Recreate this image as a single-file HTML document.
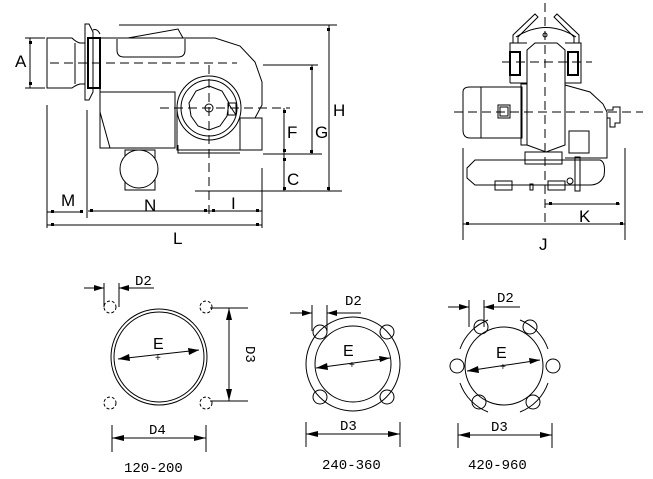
<!DOCTYPE html>
<html><head><meta charset="utf-8"><style>
html,body{margin:0;padding:0;background:#fff;}
svg{display:block;font-family:"Liberation Sans",sans-serif;}
</style></head><body>
<svg width="653" height="479" viewBox="0 0 653 479" xmlns="http://www.w3.org/2000/svg">
<g fill="none" stroke="#000" stroke-width="1">
<path d="M47,38 H72 Q76,42 80,43 H85 V84 H80 Q76,85 72,88 H47 Z"/>
<line x1="75" y1="43" x2="75" y2="84"/>
<path d="M85,24 H89 L93,32 V92 L89,100 H85 Z"/>
<path d="M88,38 H100 V88 H88 Z" stroke-width="2"/>
<path d="M93,30 Q97,28 100,34"/>
<path d="M100,38 H215 L240,46 L255,62 L262,82 V105 L255,118"/>
<path d="M117,39 V50 Q117,57 124,57 H178 Q185,57 185,50 V39"/>
<path d="M128,38 L178,29 L183,38"/>
<path d="M100,88 V112 L110,148 H175"/>
<rect x="100" y="92" width="75" height="56"/>
<circle cx="209" cy="108" r="32"/>
<circle cx="209" cy="108" r="28"/>
<polygon points="209,86 222,91 229,103 227,116 220,126 209,130 198,126 191,116 189,103 196,91"/>
<circle cx="209" cy="108" r="4"/>
<path d="M177,108 V150 H240 V118 H262 V150 H240"/>
<path d="M178,145 V153 H240"/>
<rect x="228" y="103" width="8" height="12"/>
<path d="M228,103 L236,115"/>
<rect x="125" y="150" width="30" height="40"/>
<circle cx="139" cy="169" r="19" fill="#fff"/>
<g stroke-dasharray="9,5">
<line x1="50" y1="63" x2="237" y2="63"/>
<line x1="160" y1="108" x2="290" y2="108"/>
<line x1="209" y1="65" x2="209" y2="215"/>
</g>
<line x1="119" y1="25" x2="337" y2="25"/>
<line x1="195" y1="191" x2="342" y2="191"/>
<line x1="329" y1="25" x2="329" y2="191"/>
<line x1="263" y1="65" x2="318" y2="65"/>
<line x1="263" y1="154" x2="322" y2="154"/>
<line x1="312" y1="65" x2="312" y2="154"/>
<line x1="284" y1="108" x2="284" y2="191"/>
<line x1="25" y1="38" x2="45" y2="38"/>
<line x1="25" y1="88" x2="45" y2="88"/>
<line x1="30" y1="38" x2="30" y2="88"/>
<line x1="47" y1="105" x2="47" y2="228"/>
<line x1="87" y1="110" x2="87" y2="218"/>
<line x1="262" y1="168" x2="262" y2="228"/>
<line x1="47" y1="212" x2="82" y2="212"/>
<line x1="88" y1="211" x2="262" y2="211"/>
<line x1="47" y1="225" x2="262" y2="225"/>
<path d="M527,50 L535,43 H557 L565,50 V145 L546,152 L527,145 Z"/>
<path d="M510,83 V43 H527 M565,43 H581 V83 H565 M510,83 H527"/>
<rect x="510" y="52" width="10" height="23" stroke-width="2"/>
<rect x="568" y="52" width="10" height="23" stroke-width="2"/>
<path d="M516,37 Q546,18 576,37"/>
<path d="M513,43 V35 L535,14 L538,17 L518,37 V43"/>
<path d="M579,43 V35 L557,14 L554,17 L574,37 V43"/>
<circle cx="545" cy="35" r="2"/>
<path d="M463,92 Q463,87 470,87 H481 V138 H470 Q463,138 463,130 Z"/>
<rect x="481" y="87" width="41" height="51"/>
<rect x="521" y="84" width="6" height="61"/>
<rect x="498" y="105" width="12" height="13"/>
<rect x="500" y="107" width="8" height="9"/>
<path d="M565,85 L590,92 L603,104 L607,112 V158 H565"/>
<rect x="569" y="131" width="20" height="22"/>
<path d="M607,110 H613 V107 H620 V123 H615 V127 H610 V118 H607"/>
<rect x="525" y="152" width="37" height="12"/>
<path d="M475,160 H600 Q606,162 604,176 Q600,185 590,185 H475 L467,178 V168 Z"/>
<rect x="495" y="181" width="17" height="9"/>
<rect x="548" y="181" width="17" height="9"/>
<rect x="530" y="184" width="3" height="6"/>
<rect x="575" y="157" width="5" height="34"/>
<circle cx="570" cy="181" r="3"/>
<g stroke-dasharray="9,5">
<line x1="545" y1="3" x2="545" y2="222"/>
<line x1="502" y1="62" x2="592" y2="62"/>
<line x1="454" y1="112" x2="643" y2="112"/>
</g>
<line x1="463" y1="148" x2="463" y2="240"/>
<line x1="625" y1="148" x2="625" y2="240"/>
<line x1="545" y1="204" x2="620" y2="204"/>
<line x1="463" y1="224" x2="625" y2="224"/>
<circle cx="159" cy="357" r="48"/>
<circle cx="159" cy="357" r="45"/>
<g stroke-dasharray="3,2">
<circle cx="110" cy="307" r="6"/><circle cx="206" cy="307" r="6"/>
<circle cx="110" cy="403" r="6"/><circle cx="206" cy="403" r="6"/>
</g>
<line x1="104" y1="283" x2="104" y2="307"/>
<line x1="119" y1="283" x2="119" y2="307"/>
<line x1="84" y1="288" x2="104" y2="288"/>
<line x1="119" y1="288" x2="154" y2="288"/>
<line x1="210" y1="308" x2="248" y2="308"/>
<line x1="210" y1="401" x2="248" y2="401"/>
<line x1="229" y1="308" x2="229" y2="401"/>
<line x1="112" y1="425" x2="112" y2="452"/>
<line x1="206" y1="425" x2="206" y2="452"/>
<line x1="112" y1="438" x2="206" y2="438"/>
<line x1="118" y1="359" x2="199" y2="350"/>
<circle cx="353" cy="364" r="47"/>
<circle cx="353" cy="364" r="38"/>
<circle cx="320" cy="332" r="7"/><circle cx="387" cy="332" r="7"/>
<circle cx="320" cy="397" r="7"/><circle cx="387" cy="397" r="7"/>
<line x1="312" y1="305" x2="312" y2="331"/>
<line x1="327" y1="305" x2="327" y2="331"/>
<line x1="290" y1="313" x2="312" y2="313"/>
<line x1="327" y1="313" x2="361" y2="313"/>
<line x1="306" y1="422" x2="306" y2="447"/>
<line x1="400" y1="422" x2="400" y2="447"/>
<line x1="306" y1="434" x2="400" y2="434"/>
<line x1="316" y1="368" x2="390" y2="358"/>
<circle cx="504" cy="366" r="39"/>
<path d="M460,349 A48,48 0 0 1 488,320 M520,320 A48,48 0 0 1 548,349 M548,383 A48,48 0 0 1 520,412 M488,412 A48,48 0 0 1 460,383"/>
<circle cx="481" cy="327" r="7"/><circle cx="530" cy="327" r="7"/>
<circle cx="457" cy="366" r="7"/><circle cx="553" cy="366" r="7"/>
<circle cx="479" cy="402" r="7"/><circle cx="533" cy="402" r="7"/>
<line x1="469" y1="300" x2="469" y2="327"/>
<line x1="484" y1="300" x2="484" y2="327"/>
<line x1="448" y1="307" x2="469" y2="307"/>
<line x1="484" y1="307" x2="520" y2="307"/>
<line x1="458" y1="423" x2="458" y2="448"/>
<line x1="552" y1="423" x2="552" y2="448"/>
<line x1="458" y1="435" x2="552" y2="435"/>
<line x1="467" y1="371" x2="540" y2="360"/>
</g>
<g fill="#000">
<polygon points="104,288 94,285 94,291"/><polygon points="119,288 129,285 129,291"/>
<polygon points="229,308 226,320 232,320"/><polygon points="229,401 226,389 232,389"/>
<polygon points="112,438 124,435 124,441"/><polygon points="206,438 194,435 194,441"/>
<polygon points="118,359 129,354 130,361"/><polygon points="199,350 188,348 189,355"/>
<polygon points="312,313 302,310 302,316"/><polygon points="327,313 337,310 337,316"/>
<polygon points="306,434 318,431 318,437"/><polygon points="400,434 388,431 388,437"/>
<polygon points="316,368 327,363 328,370"/><polygon points="390,358 379,356 380,362"/>
<polygon points="469,307 459,304 459,310"/><polygon points="484,307 494,304 494,310"/>
<polygon points="458,435 470,432 470,438"/><polygon points="552,435 540,432 540,438"/>
<polygon points="467,371 478,366 479,373"/><polygon points="540,360 529,358 530,364"/>
<rect x="327" y="28" width="3" height="3"/><rect x="327" y="187" width="3" height="3"/>
<rect x="310" y="67" width="3" height="3"/><rect x="310" y="150" width="3" height="3"/>
<rect x="283" y="110" width="3" height="3"/><rect x="283" y="149" width="3" height="3"/>
<rect x="283" y="158" width="3" height="3"/><rect x="283" y="187" width="3" height="3"/>
<rect x="29" y="41" width="3" height="3"/><rect x="29" y="82" width="3" height="3"/>
<rect x="51" y="210" width="3" height="3"/><rect x="80" y="210" width="3" height="3"/>
<rect x="90" y="209" width="3" height="3"/><rect x="204" y="209" width="3" height="3"/>
<rect x="212" y="209" width="3" height="3"/><rect x="256" y="209" width="3" height="3"/>
<rect x="51" y="223" width="3" height="3"/><rect x="256" y="223" width="3" height="3"/>
<rect x="549" y="202" width="3" height="3"/><rect x="616" y="202" width="3" height="3"/>
<rect x="466" y="222" width="3" height="3"/><rect x="620" y="222" width="3" height="3"/>
</g>
<g font-size="17" fill="#000" font-family="Liberation Sans, sans-serif">
<text x="15" y="67">A</text>
<text x="333" y="116">H</text>
<text x="315" y="138">G</text>
<text x="287" y="138">F</text>
<text x="287" y="185">C</text>
<text x="61" y="206">M</text>
<text x="144" y="211">N</text>
<text x="231" y="209">I</text>
<text x="173" y="244">L</text>
<text x="579" y="222">K</text>
<text x="539" y="250">J</text>
<text x="153" y="349" font-size="16">E</text>
<text x="343" y="356" font-size="16">E</text>
<text x="496" y="358" font-size="16">E</text>
<text x="155" y="361" font-size="10">+</text>
<text x="349" y="368" font-size="10">+</text>
<text x="500" y="370" font-size="10">+</text>
</g>
<g font-size="14" fill="#000" font-family="Liberation Mono, monospace">
<text x="135" y="285">D2</text>
<text x="345" y="305">D2</text>
<text x="497" y="302">D2</text>
<text x="149" y="434">D4</text>
<text x="340" y="430">D3</text>
<text x="491" y="431">D3</text>
<text x="0" y="0" transform="translate(246,346) rotate(90)">D3</text>
<text x="124" y="472">120-200</text>
<text x="322" y="469">240-360</text>
<text x="468" y="469">420-960</text>
</g>
</svg>
</body></html>
